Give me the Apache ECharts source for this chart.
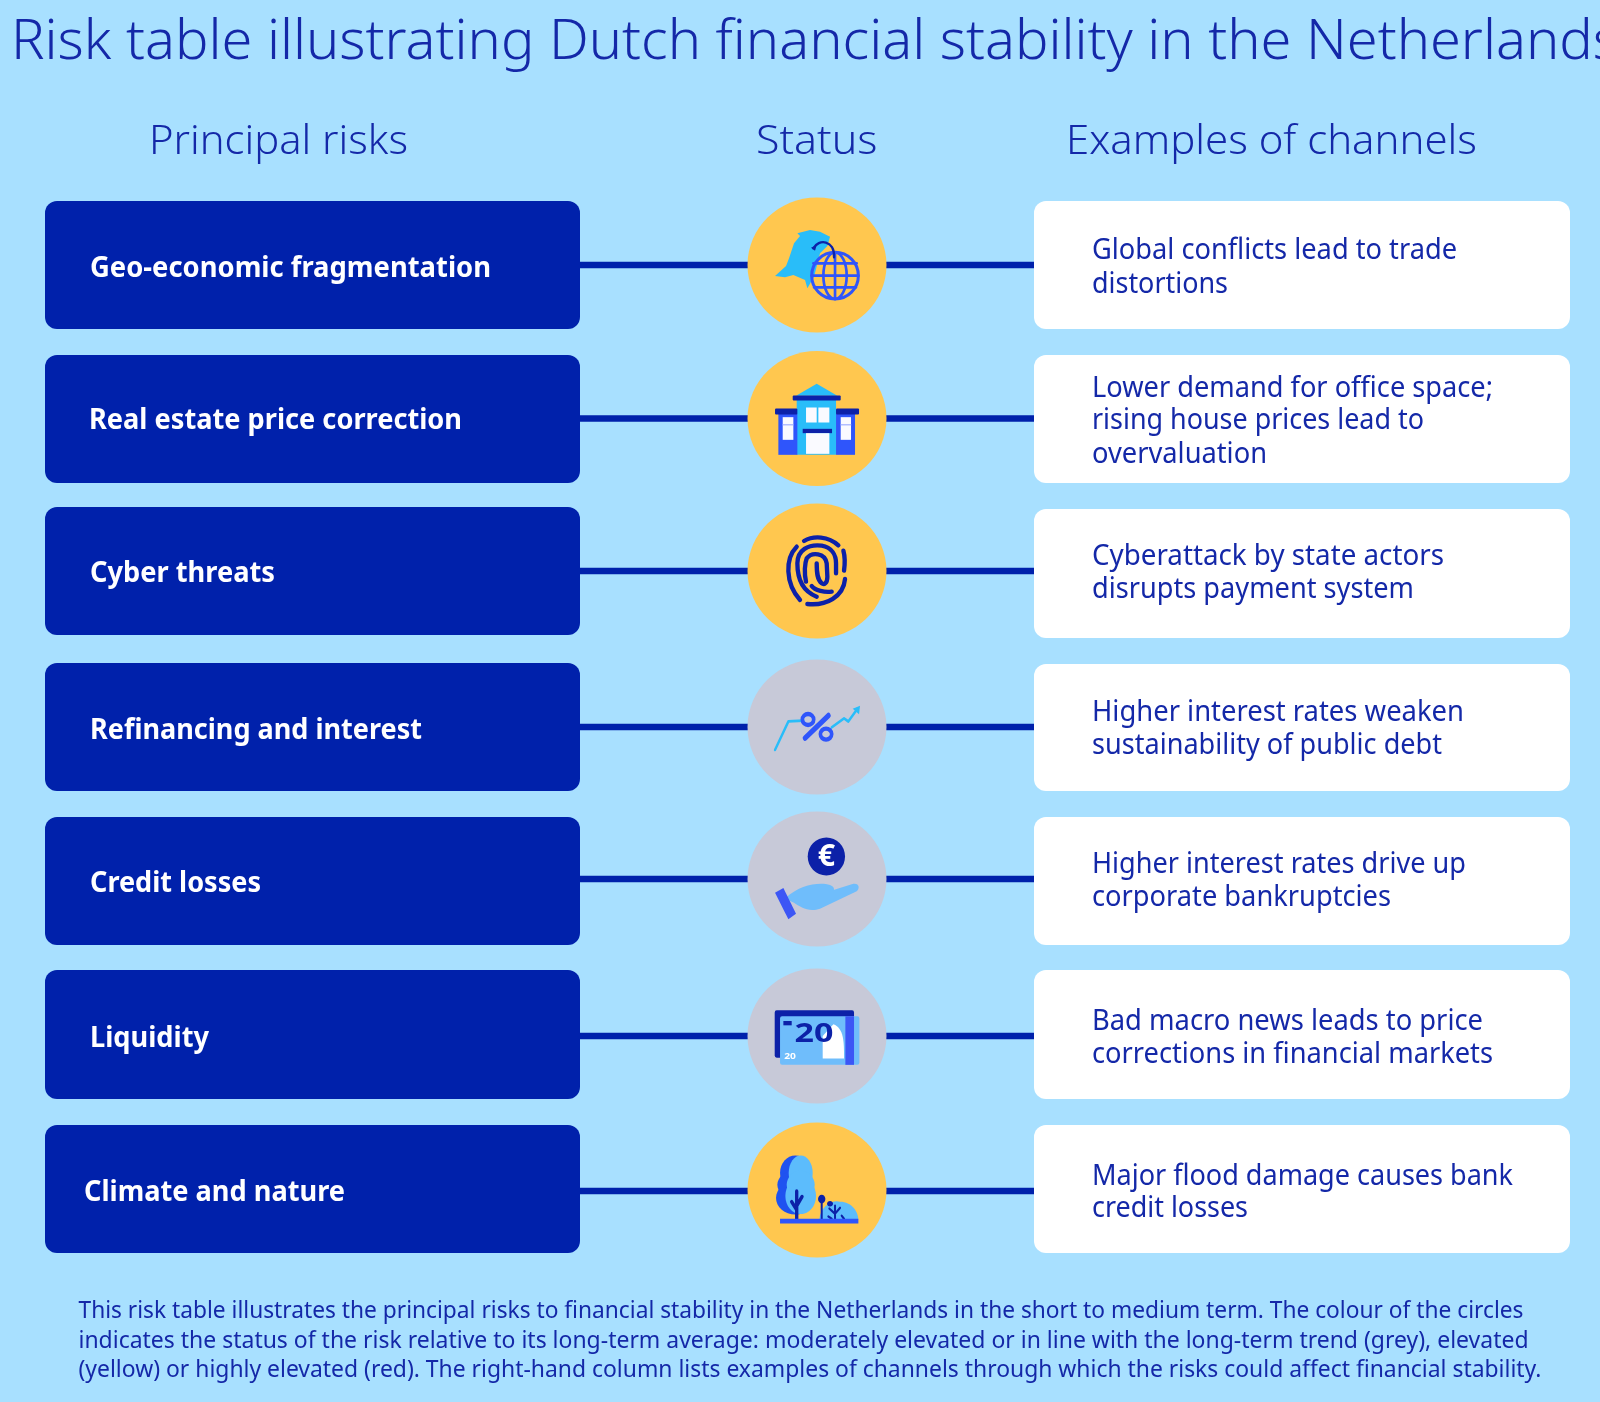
<!DOCTYPE html>
<html><head><meta charset="utf-8">
<style>html,body{margin:0;padding:0;background:#a8e0ff}#c{width:1600px;height:1402px}</style>
<script src="https://cdn.jsdelivr.net/npm/echarts@6/dist/echarts.min.js"></script>
</head><body><div id="c"></div>
<script>
const titleText = 'Risk table illustrating Dutch financial stability in the Netherlands';
const headings = ['Principal risks', 'Status', 'Examples of channels'];
const risks = ['Geo-economic fragmentation','Real estate price correction','Cyber threats','Refinancing and interest','Credit losses','Liquidity','Climate and nature'];
const statuses = ['elevated','elevated','elevated','moderate','moderate','moderate','elevated'];
const channels = [
  ['Global conflicts lead to trade','distortions'],
  ['Lower demand for office space;','rising house prices lead to','overvaluation'],
  ['Cyberattack by state actors','disrupts payment system'],
  ['Higher interest rates weaken','sustainability of public debt'],
  ['Higher interest rates drive up','corporate bankruptcies'],
  ['Bad macro news leads to price','corrections in financial markets'],
  ['Major flood damage causes bank','credit losses']
];
const footnote = [
  'This risk table illustrates the principal risks to financial stability in the Netherlands in the short to medium term. The colour of the circles',
  'indicates the status of the risk relative to its long-term average: moderately elevated or in line with the long-term trend (grey), elevated',
  '(yellow) or highly elevated (red). The right-hand column lists examples of channels through which the risks could affect financial stability.'
];
const rowY = [265,418.5,571,727,879,1036,1190];
const lineY = [265,418.5,571,727,879,1036,1191];
const boxTop = [201,355,507,663,817,970,1125];
const boxBottom = [329,483,635,791,945,1099,1253];
const rightTop = [201,355,509,664,817,970,1125];
const rightBottom = [329,483,638,791,945,1099,1253];
const labelY = [269,421,574,731,884,1039,1193];
const labelX = [90,89,90,90,90,90,84];
const channelY = [[251,285],[389,421,455],[557,590],[713,746],[865,898],[1022,1055],[1176.5,1209]];
const headWidth = [259,121.5,411];
const headX = [149,756,1066];
const labelWidth = [401,373,185,332,171,119,261];
const channelWidth = [[365,136],[401,332,175],[352,322],[372,350],[374,299],[391,401],[421,156]];
const footWidth = [1445,1450,1463];

const BLUE='#0021ab', TEXT='#1428a8', CYAN='#29bdf9', MID='#2f55fb', DARK='#0c21a8', SKY='#6fbdfb';
const statusColor = {elevated:'#ffc74f', moderate:'#c7c9d8'};
const FONT='"Noto Sans"';
const ctx = document.createElement('canvas').getContext('2d');
function fit(text, weight, size, target){ ctx.font = weight+' '+size+'px '+FONT; return target/ctx.measureText(text).width; }

const sTitle = fit('Risk table illustrating Dutch financial stability in the ',300,56,1295);

function txt(s,x,y,size,weight,fill,sx){
  return {type:'text',x:x,y:y,scaleX:sx,style:{text:s,x:0,y:0,fontFamily:FONT,fontSize:size,fontWeight:weight,fill:fill,verticalAlign:'middle',align:'left'}};
}
const P=(d,o)=>({type:'path',shape:{pathData:d},style:o});
const R=(x,y,x2,y2,fill,r)=>({type:'rect',shape:{x:x,y:y,width:x2-x,height:y2-y,r:r||0},style:{fill:fill}});
const E=(cx,cy,rx,ry,st)=>({type:'ellipse',shape:{cx:cx,cy:cy,rx:rx,ry:ry},style:st});
const stroke=(c,w)=>({fill:'none',stroke:c,lineWidth:w,lineCap:'round',lineJoin:'round'});
const T=(s,x,y,size,fill,sx)=>({type:'text',x:x,y:y,scaleX:sx||1,style:{text:s,x:0,y:0,fontSize:size,fontWeight:700,fontFamily:FONT,fill:fill,align:'center',verticalAlign:'middle'}});

// Icons are drawn in a local 3x space: [centreY, yScale, shapes]
const icons = [
 [255,3,[
  P('M165 288 L198 258 L207 235 L222 190 L240 168 L232 160 L270 150 L300 155 L330 170 L322 198 L300 220 L282 290 L262 325 L255 300 L220 285 L195 292 Z',{fill:CYAN}),
  E(345,287,70,70,{fill:'none',stroke:MID,lineWidth:9}),
  E(345,287,35,70,{fill:'none',stroke:MID,lineWidth:8}),
  P('M345 217 L345 357 M280 250 L410 250 M275 287 L415 287 M282 322 L408 322',stroke(MID,8)),
  P('M280 205 C295 175 345 180 342 232',stroke(DARK,7)),
  P('M273 203 L290 195 L285 212 Z',{fill:DARK})
 ]],
 [716,3,[
  P('M228 648 L290 612 L352 648 Z',{fill:CYAN}),
  R(230,660,348,825,CYAN),
  R(175,702,232,825,MID), R(348,702,405,825,MID),
  R(165,686,232,704,DARK,3), R(348,686,417,704,DARK,3),
  R(218,647,362,662,DARK,3),
  R(258,683,290,728,'#fafaff'), R(295,683,328,728,'#fafaff'),
  R(248,747,336,760,DARK), R(258,760,328,822,'#fafaff'),
  R(188,712,220,780,'#fafaff'), R(362,712,393,780,'#fafaff'),
  P('M188 735 L220 735 M362 735 L393 735',stroke('#8fa0ff',3))
 ]],
 [1173,3,[
  P('M252 1083 C280 1066 325 1068 355 1096',stroke(DARK,13)),
  P('M230 1100 C195 1135 195 1210 240 1260',stroke(DARK,13)),
  P('M370 1112 C375 1130 375 1150 372 1172',stroke(DARK,13)),
  P('M375 1197 C370 1250 320 1278 262 1272',stroke(DARK,13)),
  P('M290 1250 C250 1235 232 1200 232 1150 C232 1110 265 1092 305 1097 C335 1102 348 1125 348 1150 L348 1180',stroke(DARK,13)),
  P('M258 1205 C252 1180 254 1150 260 1135 C275 1115 315 1118 320 1150 L322 1190 C322 1210 312 1215 305 1210 C292 1200 290 1180 290 1150',stroke(DARK,13)),
  P('M275 1218 C285 1232 315 1238 335 1235',stroke(DARK,13))
 ]],
 [194,2.53,[
  P('M165 252 L205 180 L250 178',stroke(CYAN,7)),
  P('M335 195 L372 172 L385 180 L412 148',stroke(CYAN,7)),
  P('M398 148 L420 140 L417 162 Z',{fill:CYAN}),
  P('M255 222 L325 165',stroke(MID,14)),
  E(264,175,17,14,{fill:'none',stroke:MID,lineWidth:11}),
  E(318,212,17,14,{fill:'none',stroke:MID,lineWidth:11})
 ]],
 [580,2.53,[
  E(319,523,56,48,{fill:DARK}),
  T('€',319,525,76,'#fff',1.2),
  P('M195 630 C240 592 300 588 330 595 C348 600 345 615 325 617 L295 620 L400 592 C418 590 420 604 410 611 L300 655 C265 665 240 650 222 640 Z',{fill:SKY}),
  P('M165 615 L190 603 L228 668 L205 682 Z',{fill:'#3c56f5'})
 ]],
 [975,2.53,[
  R(164,910,402,1030,DARK,6),
  R(180,925,418,1048,SKY,6),
  P('M308 1032 L308 975 L340 945 C372 955 372 990 372 1032 Z',{fill:'#fff'}),
  R(376,925,402,1048,'#3c56f5'),
  R(190,937,215,948,DARK),
  T('20',282,972,68,DARK,1.5),
  T('20',210,1028,22,'#fff',1.4)
 ]],
 [1365,2.53,[
  E(226,1385,58,42,{fill:'#1f52f0'}), E(226,1322,46,44,{fill:'#1f52f0'}), E(222,1352,50,36,{fill:'#1f52f0'}),
  E(242,1380,46,46,{fill:'#5cbcfc'}), E(242,1322,36,44,{fill:'#5cbcfc'}), E(242,1352,42,36,{fill:'#5cbcfc'}),
  P('M230 1368 L230 1440 M230 1405 L246 1382 M230 1415 L215 1395',stroke(DARK,10)),
  P('M298 1440 C300 1405 340 1388 360 1395 C395 1395 415 1420 415 1440 Z',{fill:'#5cbcfc'}),
  P('M305 1398 L305 1440 M345 1405 L345 1438 M345 1425 L360 1410 M345 1425 L328 1412 M325 1432 L335 1438 M365 1430 L372 1438',stroke(DARK,6)),
  E(305,1388,11,11,{fill:DARK}), E(330,1400,9,7,{fill:DARK}),
  R(180,1438,415,1450,MID)
 ]]
];

const dataIdx = risks.map((r,i)=>[i]);
const rowSeries = (z,fn)=>({type:'custom',coordinateSystem:'cartesian2d',data:dataIdx,z:z,silent:true,clip:false,encode:{x:0,y:0},renderItem:(p,api)=>fn(api.value(0),api)});

const option = {
  animation:false,
  backgroundColor:'#a8e0ff',
  grid:{left:0,right:0,top:0,bottom:0},
  xAxis:{type:'value',min:0,max:1600,show:false},
  yAxis:{type:'value',min:0,max:1402,inverse:true,show:false},
  graphic:[
    txt(titleText,11,43,56,300,TEXT,sTitle),
    ...headings.map((h,i)=>txt(h,headX[i],142,41,300,TEXT,fit(h,300,41,headWidth[i]))),
    ...footnote.map((l,i)=>txt(l,78.5,[1311,1341,1370][i],24,400,TEXT,fit(l,400,24,footWidth[i])))
  ],
  series:[
    rowSeries(1,(i,api)=>{
      const a=api.coord([580,lineY[i]]), b=api.coord([1034,lineY[i]]);
      return {type:'line',shape:{x1:a[0],y1:a[1],x2:b[0],y2:b[1]},style:{stroke:BLUE,lineWidth:6.5}};
    }),
    rowSeries(2,(i,api)=>{
      const a=api.coord([45,boxTop[i]]), b=api.coord([580,boxBottom[i]]);
      return {type:'group',children:[
        {type:'rect',shape:{x:a[0],y:a[1],width:b[0]-a[0],height:b[1]-a[1],r:12},style:{fill:BLUE}},
        txt(risks[i],api.coord([labelX[i],0])[0],api.coord([0,labelY[i]])[1],28,700,'#fff',fit(risks[i],700,28,labelWidth[i]))
      ]};
    }),
    rowSeries(2,(i,api)=>{
      const a=api.coord([1034,rightTop[i]]), b=api.coord([1570,rightBottom[i]]);
      return {type:'group',children:[
        {type:'rect',shape:{x:a[0],y:a[1],width:b[0]-a[0],height:b[1]-a[1],r:12},style:{fill:'#fff'}},
        ...channels[i].map((l,j)=>txt(l,api.coord([1092,0])[0],api.coord([0,channelY[i][j]])[1],29,400,TEXT,fit(l,400,29,channelWidth[i][j])))
      ]};
    }),
    rowSeries(3,(i,api)=>{
      const c=api.coord([817,rowY[i]]);
      return {type:'ellipse',shape:{cx:c[0],cy:c[1],rx:69.5,ry:67.5},style:{fill:statusColor[statuses[i]]}};
    }),
    rowSeries(4,(i,api)=>{
      const c=api.coord([816.7,rowY[i]]), ic=icons[i];
      return {type:'group',x:c[0],y:c[1],scaleX:1/3,scaleY:1/ic[1],children:[{type:'group',x:-290,y:-ic[0],children:ic[2]}]};
    })
  ]
};
const chart = echarts.init(document.getElementById('c'),null,{width:1600,height:1402});
chart.setOption(option);
</script></body></html>
